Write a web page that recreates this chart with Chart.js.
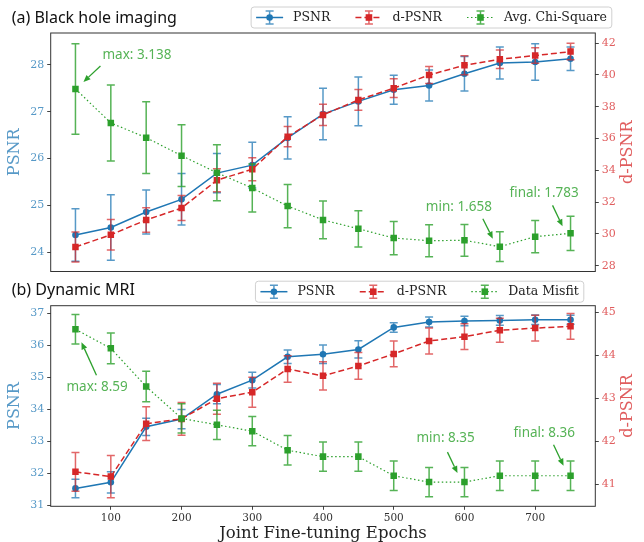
<!DOCTYPE html>
<html>
<head>
<meta charset="utf-8">
<script src="https://cdn.jsdelivr.net/npm/chart.js@4"></script>
<style>
  body { margin: 0; background: #fff; }
  canvas { position: absolute; left: 0; top: 0; }
</style>
</head>
<body>
<canvas id="topChart" width="644" height="542"></canvas>
<canvas id="bottomChart" width="644" height="542"></canvas>
<script>
// data
const epochs = [50, 100, 150, 200, 250, 300, 350, 400, 450, 500, 550, 600, 650, 700, 750];
const xTicks = [100, 200, 300, 400, 500, 600, 700];

// (a) black hole imaging
const bhPsnr = [24.37, 24.53, 24.86, 25.13, 25.69, 25.86, 26.44, 26.95, 27.22, 27.47, 27.56, 27.81, 28.04, 28.06, 28.13];
const bhPsnrErr = [0.56, 0.70, 0.47, 0.55, 0.42, 0.49, 0.45, 0.55, 0.52, 0.31, 0.33, 0.37, 0.34, 0.39, 0.25];
const bhDpsnr = [29.18, 29.95, 30.88, 31.63, 33.38, 34.07, 36.12, 37.49, 38.43, 39.17, 40.00, 40.61, 40.99, 41.22, 41.47];
const bhDpsnrErr = [0.94, 0.96, 0.77, 0.79, 0.73, 0.72, 0.64, 0.67, 0.65, 0.59, 0.54, 0.60, 0.58, 0.49, 0.52];
const bhChi = [3.138, 2.819, 2.681, 2.512, 2.352, 2.208, 2.039, 1.909, 1.826, 1.739, 1.714, 1.718, 1.658, 1.752, 1.783];
const bhChiErr = [0.425, 0.357, 0.336, 0.289, 0.263, 0.225, 0.203, 0.177, 0.170, 0.156, 0.150, 0.149, 0.139, 0.152, 0.160];
const bhLeftTicks = [24, 25, 26, 27, 28];
const bhRightTicks = [28, 30, 32, 34, 36, 38, 40, 42];

// (b) dynamic MRI
const mriPsnr = [31.52, 31.71, 33.45, 33.69, 34.47, 34.91, 35.64, 35.72, 35.87, 36.56, 36.73, 36.76, 36.78, 36.80, 36.80];
const mriPsnrErr = [0.29, 0.33, 0.27, 0.30, 0.30, 0.25, 0.21, 0.29, 0.27, 0.15, 0.16, 0.15, 0.15, 0.15, 0.14];
const mriDpsnr = [41.29, 41.18, 42.41, 42.52, 42.99, 43.14, 43.68, 43.52, 43.75, 44.03, 44.33, 44.43, 44.58, 44.63, 44.67];
const mriDpsnrErr = [0.45, 0.49, 0.39, 0.38, 0.36, 0.35, 0.31, 0.33, 0.31, 0.30, 0.30, 0.30, 0.28, 0.30, 0.30];
const mriMisfit = [8.59, 8.56, 8.50, 8.45, 8.44, 8.43, 8.40, 8.39, 8.39, 8.36, 8.35, 8.35, 8.36, 8.36, 8.36];
const mriMisfitErr = [0.023, 0.024, 0.024, 0.023, 0.023, 0.023, 0.023, 0.023, 0.023, 0.023, 0.023, 0.023, 0.023, 0.023, 0.023];
const mriLeftTicks = [31, 32, 33, 34, 35, 36, 37];
const mriRightTicks = [41, 42, 43, 44, 45];

// annotations: index into the green series, then text / arrow offsets in px
const bhNotes = [
  { i: 0, text: 'max: 3.138', tx: 27, ty: -34, ax: 25, ay: -23, bx: 8, by: -7 },
  { i: 12, text: 'min: 1.658', tx: -74, ty: -40, ax: -17, ay: -28, bx: -7, by: -8 },
  { i: 14, text: 'final: 1.783', tx: -61, ty: -40, ax: -18, ay: -28, bx: -8, by: -7 }
];
const mriNotes = [
  { i: 0, text: 'max: 8.59', tx: -9, ty: 58, ax: 21, ay: 46, bx: 6, by: 13 },
  { i: 11, text: 'min: 8.35', tx: -48, ty: -44, ax: -17, ay: -30, bx: -7, by: -9 },
  { i: 14, text: 'final: 8.36', tx: -57, ty: -43, ax: -17, ay: -31, bx: -7, by: -10 }
];

const BLUE = '#1f77b4', RED = '#d62728', GREEN = '#2ca02c';
const BLUE_T = 'rgba(31,119,180,0.75)', RED_T = 'rgba(214,39,40,0.75)', GREEN_T = 'rgba(44,160,44,0.8)';

function series(label, vals, err, color, errColor, dash, style, axis, order, width) {
  return {
    label: label,
    data: epochs.map((e, i) => ({ x: e, y: vals[i] })),
    err: err,
    errColor: errColor,
    borderColor: color,
    backgroundColor: color,
    borderWidth: width,
    borderDash: dash,
    pointStyle: style,
    pointRadius: style == 'circle' ? 3.3 : 4.6,
    pointBorderWidth: 0,
    yAxisID: axis,
    order: order,
    tension: 0,
    fill: false
  };
}

function yAxis(pos, min, max, ticks, color, title, titlePad, width) {
  return {
    type: 'linear', position: pos, min: min, max: max,
    afterBuildTicks: s => { s.ticks = ticks.map(v => ({ value: v })); },
    afterFit: s => { s.width = width; },
    grid: { display: true, drawOnChartArea: false, tickLength: 3.5, color: '#444' },
    border: { display: false },
    ticks: { color: color, font: { family: 'DejaVu Serif', size: 11 }, padding: 3 },
    title: { display: pos == 'left', text: title, color: color, font: { family: 'DejaVu Serif', size: 16, lineHeight: 1.2 }, padding: { top: titlePad, bottom: 0 } }
  };
}

// vertical error bars with caps, drawn under each dataset's markers
const errorBars = {
  id: 'errorBars',
  beforeDatasetDraw(chart, args) {
    const ds = chart.data.datasets[args.index];
    if (!ds.err) return;
    const ys = chart.scales[ds.yAxisID];
    const ctx = chart.ctx;
    ctx.save();
    ctx.strokeStyle = ds.errColor;
    ctx.lineWidth = 1.5;
    ds.data.forEach((p, i) => {
      const x = args.meta.data[i].x;
      const y1 = ys.getPixelForValue(p.y - ds.err[i]);
      const y2 = ys.getPixelForValue(p.y + ds.err[i]);
      ctx.beginPath();
      ctx.moveTo(x, y1); ctx.lineTo(x, y2);
      ctx.moveTo(x - 4, y1); ctx.lineTo(x + 4, y1);
      ctx.moveTo(x - 4, y2); ctx.lineTo(x + 4, y2);
      ctx.stroke();
    });
    ctx.restore();
  }
};

function arrow(ctx, x1, y1, x2, y2) {
  const a = Math.atan2(y2 - y1, x2 - x1), L = 7, W = 3;
  const c = Math.cos(a), s = Math.sin(a);
  ctx.beginPath();
  ctx.moveTo(x1, y1);
  ctx.lineTo(x2 - L * c, y2 - L * s);
  ctx.stroke();
  ctx.beginPath();
  ctx.moveTo(x2, y2);
  ctx.lineTo(x2 - L * c + W * s, y2 - L * s - W * c);
  ctx.lineTo(x2 - L * c - W * s, y2 - L * s + W * c);
  ctx.closePath();
  ctx.fill();
}

function legendGlyph(ctx, ds, x, y) {
  ctx.save();
  ctx.strokeStyle = ds.borderColor;
  ctx.lineWidth = ds.borderWidth;
  ctx.setLineDash(ds.borderDash);
  ctx.beginPath(); ctx.moveTo(x, y); ctx.lineTo(x + 27, y); ctx.stroke();
  ctx.setLineDash([]);
  const cx = x + 13.5;
  ctx.strokeStyle = ds.errColor;
  ctx.lineWidth = 1.5;
  ctx.beginPath();
  ctx.moveTo(cx, y - 6.5); ctx.lineTo(cx, y + 6.5);
  ctx.moveTo(cx - 4, y - 6.5); ctx.lineTo(cx + 4, y - 6.5);
  ctx.moveTo(cx - 4, y + 6.5); ctx.lineTo(cx + 4, y + 6.5);
  ctx.stroke();
  ctx.fillStyle = ds.borderColor;
  if (ds.pointStyle == 'circle') {
    ctx.beginPath(); ctx.arc(cx, y, 3.3, 0, Math.PI * 2); ctx.fill();
  } else {
    ctx.fillRect(cx - 3.3, y - 3.3, 6.6, 6.6);
  }
  ctx.restore();
}

// frame, panel title, right axis title, legend box and annotations
const panel = {
  id: 'panel',
  afterDraw(chart, args, opts) {
    const ctx = chart.ctx;
    const area = chart.chartArea;
    ctx.save();
    ctx.strokeStyle = '#333';
    ctx.lineWidth = 1;
    ctx.strokeRect(area.left, area.top, area.right - area.left, area.bottom - area.top);

    ctx.fillStyle = '#111';
    ctx.font = '16px "Noto Sans"';
    ctx.textBaseline = 'middle';
    ctx.textAlign = 'left';
    ctx.fillText(opts.title, 11.7, area.top + opts.titleDy);

    // right axis title, reading bottom to top like matplotlib
    ctx.save();
    ctx.translate(628, (area.top + area.bottom) / 2);
    ctx.rotate(-Math.PI / 2);
    ctx.textAlign = 'center';
    ctx.fillStyle = RED_T;
    ctx.font = '16px "DejaVu Serif"';
    ctx.fillText(opts.rightTitle, 0, 0);
    ctx.restore();

    // legend
    ctx.font = '12.5px "DejaVu Serif"';
    const items = chart.data.datasets;
    const widths = items.map(d => ctx.measureText(d.label).width);
    let w = 10;
    widths.forEach((tw, i) => { w += 37 + tw + (i < widths.length - 1 ? 25 : 0); });
    const bx = area.right + opts.legendRight - w;
    const by = area.top + opts.legendTop;
    ctx.fillStyle = 'rgba(255,255,255,0.85)';
    ctx.strokeStyle = '#d0d0d0';
    ctx.beginPath();
    ctx.roundRect(bx, by, w, 21, 3);
    ctx.fill(); ctx.stroke();
    let x = bx + 5;
    const cy = by + 10.5;
    items.forEach((d, i) => {
      legendGlyph(ctx, d, x, cy);
      ctx.fillStyle = '#222';
      ctx.fillText(d.label, x + 37, cy + 0.5);
      x += 37 + widths[i] + 25;
    });

    // annotations on the green series
    const green = items[2];
    const xs = chart.scales.x, ys = chart.scales.y3;
    ctx.font = '13.5px "Noto Sans"';
    ctx.strokeStyle = GREEN;
    ctx.lineWidth = 1.3;
    opts.notes.forEach(n => {
      const px = xs.getPixelForValue(green.data[n.i].x);
      const py = ys.getPixelForValue(green.data[n.i].y);
      ctx.fillStyle = GREEN_T;
      ctx.fillText(n.text, px + n.tx, py + n.ty);
      ctx.fillStyle = GREEN;
      arrow(ctx, px + n.ax, py + n.ay, px + n.bx, py + n.by);
    });
    ctx.restore();
  }
};

new Chart('topChart', {
  type: 'line',
  data: {
    datasets: [
      series('PSNR', bhPsnr, bhPsnrErr, BLUE, 'rgba(31,119,180,0.75)', [], 'circle', 'y', 3, 1.5),
      series('d-PSNR', bhDpsnr, bhDpsnrErr, RED, 'rgba(214,39,40,0.7)', [6, 3], 'rect', 'y2', 2, 1.5),
      series('Avg. Chi-Square', bhChi, bhChiErr, GREEN, 'rgba(44,160,44,0.8)', [1.5, 2.5], 'rect', 'y3', 1, 1.2)
    ]
  },
  options: {
    responsive: false,
    animation: false,
    layout: { padding: { top: 33, bottom: 270.5, left: 0, right: 0 } },
    plugins: {
      legend: { display: false },
      tooltip: { enabled: false },
      panel: { title: '(a) Black hole imaging', rightTitle: 'd-PSNR', titleDy: -14.7, legendRight: 16.5, legendTop: -26, notes: bhNotes }
    },
    scales: {
      x: { type: 'linear', min: 15, max: 785, display: false },
      y: yAxis('left', 23.59, 28.68, bhLeftTicks, BLUE_T, 'PSNR', 5.4, 50.7),
      y2: yAxis('right', 27.64, 42.64, bhRightTicks, RED_T, 'd-PSNR', 6.4, 48.7),
      y3: { type: 'linear', display: false, min: 1.425, max: 3.663 }
    }
  },
  plugins: [errorBars, panel]
});

new Chart('bottomChart', {
  type: 'line',
  data: {
    datasets: [
      series('PSNR', mriPsnr, mriPsnrErr, BLUE, 'rgba(31,119,180,0.75)', [], 'circle', 'y', 3, 1.5),
      series('d-PSNR', mriDpsnr, mriDpsnrErr, RED, 'rgba(214,39,40,0.7)', [6, 3], 'rect', 'y2', 2, 1.5),
      series('Data Misfit', mriMisfit, mriMisfitErr, GREEN, 'rgba(44,160,44,0.8)', [1.5, 2.5], 'rect', 'y3', 1, 1.2)
    ]
  },
  options: {
    responsive: false,
    animation: false,
    layout: { padding: { top: 305.7, bottom: 0, left: 0, right: 0 } },
    plugins: {
      legend: { display: false },
      tooltip: { enabled: false },
      panel: { title: '(b) Dynamic MRI', rightTitle: 'd-PSNR', titleDy: -15, legendRight: -11.5, legendTop: -24.5, notes: mriNotes }
    },
    scales: {
      x: {
        type: 'linear', min: 15, max: 785,
        afterBuildTicks: s => { s.ticks = xTicks.map(v => ({ value: v })); },
        afterFit: s => { s.height = 35.7; },
        grid: { display: true, drawOnChartArea: false, tickLength: 3.5, color: '#444' },
        border: { display: false },
        ticks: { color: '#333', font: { family: 'DejaVu Serif', size: 10.5 }, padding: 2, maxRotation: 0, autoSkip: false },
        title: { display: true, text: 'Joint Fine-tuning Epochs', color: '#222', font: { family: 'DejaVu Serif', size: 16.5, lineHeight: 1 }, padding: { top: 0.5, bottom: 0 } }
      },
      y: yAxis('left', 30.96, 37.24, mriLeftTicks, BLUE_T, 'PSNR', 5.4, 50.7),
      y2: yAxis('right', 40.49, 45.15, mriRightTicks, RED_T, 'd-PSNR', 6.4, 48.7),
      y3: { type: 'linear', display: false, min: 8.312, max: 8.627 }
    }
  },
  plugins: [errorBars, panel]
});
</script>
</body>
</html>
